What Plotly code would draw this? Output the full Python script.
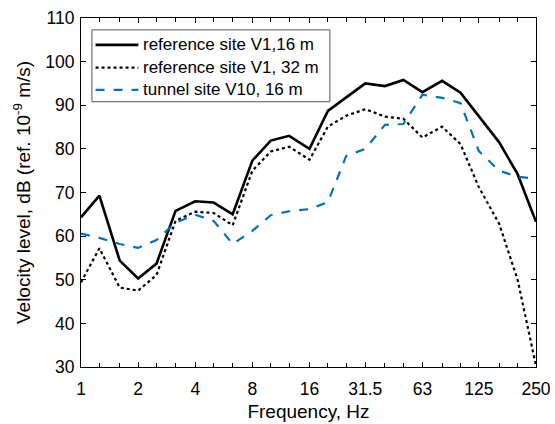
import plotly.graph_objects as go

# Third-octave band centre frequencies (Hz)
freq = [1, 1.25, 1.6, 2, 2.5, 3.15, 4, 5, 6.3, 8, 10, 12.5, 16, 20, 25,
        31.5, 40, 50, 63, 80, 100, 125, 160, 200, 250]

# Velocity levels, dB re 1e-9 m/s
v1_16m = [64.3, 69.3, 54.4, 50.3, 53.7, 65.8, 68.0, 67.7, 65.0, 77.3, 81.9,
          83.0, 80.0, 88.7, 91.8, 95.0, 94.4, 95.8, 93.0, 95.6, 92.9, 87.6,
          81.5, 74.2, 63.3]
v1_32m = [49.4, 57.2, 48.2, 47.5, 51.1, 63.5, 65.6, 65.3, 62.5, 75.0, 79.4,
          80.5, 77.5, 85.1, 87.6, 89.1, 87.4, 86.9, 82.6, 85.1, 81.1, 71.2,
          62.8, 50.0, 30.3]
v10_16m = [60.6, 59.6, 58.2, 57.3, 59.1, 63.1, 64.9, 63.5, 58.2, 61.2, 64.8,
           65.7, 66.2, 67.8, 78.4, 80.0, 85.5, 85.7, 92.4, 91.7, 90.5, 79.5,
           75.0, 73.6, 73.2]

series_names = ["reference site V1,16 m", "reference site V1, 32 m",
                "tunnel site V10, 16 m"]

# Octave bands carry labels; the bands in between get unlabelled minor ticks
major_freq = [1, 2, 4, 8, 16, 31.5, 63, 125, 250]
major_text = ["1", "2", "4", "8", "16", "31.5", "63", "125", "250"]
minor_freq = [f for f in freq if f not in major_freq]
y_ticks = [30, 40, 50, 60, 70, 80, 90, 100, 110]

FONT = "Liberation Sans, Arial"
styles = [dict(color="black", width=2.6),
          dict(color="black", width=2.2, dash="dot"),
          dict(color="#0072BD", width=2.2, dash="dash")]

fig = go.Figure()
for name, values, style in zip(series_names, [v1_16m, v1_32m, v10_16m], styles):
    fig.add_trace(go.Scatter(x=freq, y=values, mode="lines", name=name,
                             line=style, showlegend=False))

axis_common = dict(showline=True, linecolor="black", linewidth=1.2,
                   mirror="ticks", ticks="inside", ticklen=5, tickwidth=1,
                   tickcolor="black", showgrid=False, zeroline=False,
                   automargin=False,
                   tickfont=dict(family=FONT, size=17.5, color="black"))

fig.update_xaxes(type="log", range=[0, 2.39794], tickmode="array",
                 tickvals=major_freq, ticktext=major_text,
                 ticklabelstandoff=6,
                 minor=dict(tickmode="array", tickvals=minor_freq,
                            ticks="inside", ticklen=4, tickwidth=1,
                            tickcolor="black", showgrid=False),
                 title=dict(text="Frequency, Hz", standoff=6,
                            font=dict(family=FONT, size=19, color="black")),
                 **axis_common)
fig.update_yaxes(range=[30, 110], tickmode="array", tickvals=y_ticks,
                 ticklabelstandoff=2,
                 title=dict(text="Velocity level, dB (ref. 10<sup>-9</sup> m/s)",
                            standoff=9,
                            font=dict(family=FONT, size=19, color="black")),
                 **axis_common)

# Legend box in the upper-left corner of the plot area
box_x0, box_x1, box_y0, box_y1 = 0.024, 0.547, 0.760, 0.966
row_y = [0.923, 0.858, 0.794]
key_x0, key_x1, text_x = 0.032, 0.126, 0.131

shapes = [dict(type="rect", xref="paper", yref="paper",
               x0=box_x0, x1=box_x1, y0=box_y0, y1=box_y1,
               line=dict(color="#555555", width=1), fillcolor="white",
               layer="above")]
annotations = []
for name, style, yy in zip(series_names, styles, row_y):
    shapes.append(dict(type="line", xref="paper", yref="paper",
                       x0=key_x0, x1=key_x1, y0=yy, y1=yy,
                       line=style, layer="above"))
    annotations.append(dict(text=name, xref="paper", yref="paper",
                            x=text_x, y=yy, xanchor="left", yanchor="middle",
                            showarrow=False,
                            font=dict(family=FONT, size=17, color="black")))

fig.update_layout(
    width=555, height=424,
    margin=dict(l=81, r=19, t=18, b=57, autoexpand=False),
    paper_bgcolor="white", plot_bgcolor="white",
    showlegend=False,
    shapes=shapes,
    annotations=annotations,
)

fig.write_html("out.html")
